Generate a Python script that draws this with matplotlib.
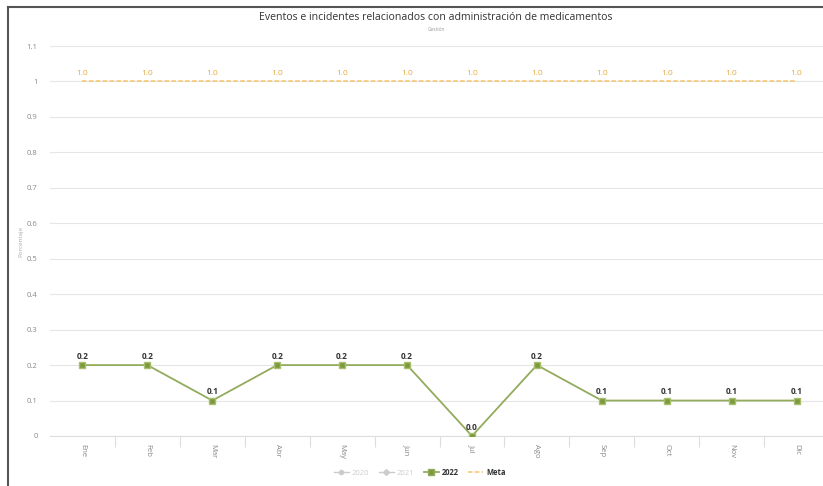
import matplotlib.pyplot as plt
from matplotlib.lines import Line2D

plt.rcParams['font.family'] = ['Open Sans', 'DejaVu Sans']

meses = ['Ene', 'Feb', 'Mar', 'Abr', 'May', 'Jun', 'Jul', 'Ago', 'Sep', 'Oct', 'Nov', 'Dic']
valores_2022 = [0.2, 0.2, 0.1, 0.2, 0.2, 0.2, 0.0, 0.2, 0.1, 0.1, 0.1, 0.1]
meta = [1.0] * 12
y_ticks = [0, 0.1, 0.2, 0.3, 0.4, 0.5, 0.6, 0.7, 0.8, 0.9, 1, 1.1]
y_tick_labels = ['0', '0.1', '0.2', '0.3', '0.4', '0.5', '0.6', '0.7', '0.8', '0.9', '1', '1.1']

verde = '#93ab5c'
verde_marker = '#7b9a3c'
naranja = '#f7c46c'
naranja_txt = '#e9a93a'

fig = plt.figure(figsize=(8.23, 4.86), dpi=100)
ax = fig.add_axes([0.0608, 0.1029, 0.9465, 0.8024])

x = list(range(len(meses)))
ax.plot(x, meta, color=naranja, lw=1.1, ls=(0, (3, 1.5)), zorder=3)
ax.plot(x, valores_2022, color=verde, lw=1.3, marker='s', ms=5,
        markerfacecolor=verde_marker, markeredgecolor='#a9bf6e', zorder=4)

for i, v in enumerate(meta):
    ax.text(i, v + 0.012, f'{v:.1f}', ha='center', va='bottom',
            fontsize=6, color=naranja_txt)
for i, v in enumerate(valores_2022):
    ax.text(i, v + 0.012, f'{v:.1f}', ha='center', va='bottom',
            fontsize=6, fontweight='bold', color='#333333', zorder=5)

ax.set_xlim(-0.5, len(meses) - 0.5)
ax.set_ylim(0, 1.1)
ax.set_yticks(y_ticks)
ax.set_yticklabels(y_tick_labels, fontsize=5.5, color='#888888')
ax.set_xticks(x)
ax.set_xticklabels(meses, rotation=-90, fontsize=5.5, color='#888888')
ax.set_xticks([i + 0.5 for i in x[:-1]], minor=True)
ax.tick_params(axis='x', which='major', length=0, pad=6)
ax.tick_params(axis='x', which='minor', length=8, color='#dddddd', width=0.8)
ax.tick_params(axis='y', length=0, pad=9)

ax.grid(axis='y', color='#e6e6e6', lw=0.8)
ax.set_axisbelow(True)
for s in ['top', 'right', 'left']:
    ax.spines[s].set_visible(False)
ax.spines['bottom'].set_color('#dddddd')
ax.spines['bottom'].set_linewidth(0.8)

ax.set_ylabel('Porcentaje', fontsize=4.5, color='#aaaaaa', labelpad=2)

fig.text(0.53, 0.963, 'Eventos e incidentes relacionados con administración de medicamentos',
         ha='center', va='center', fontsize=7.6, color='#333333')
fig.text(0.53, 0.94, 'Gestión', ha='center', va='center', fontsize=3.5, color='#999999')

handles = [
    Line2D([], [], color='#cccccc', marker='o', ms=3, lw=1),
    Line2D([], [], color='#cccccc', marker='D', ms=3, lw=1),
    Line2D([], [], color=verde, marker='s', ms=4, lw=1.3, markerfacecolor=verde_marker),
    Line2D([], [], color=naranja, lw=1.1, ls=(0, (3, 1.5))),
]
leg = fig.legend(handles, ['2020', '2021', '2022', 'Meta'], loc='center',
                 bbox_to_anchor=(0.51, 0.028), ncol=4, frameon=False,
                 fontsize=5.5, handlelength=2, columnspacing=1.2, handletextpad=0.4)
for t, c in zip(leg.get_texts(), ['#cccccc', '#cccccc', '#333333', '#333333']):
    t.set_color(c)
    if c == '#333333':
        t.set_fontweight('bold')

# marco exterior
fig.add_artist(Line2D([0.0097, 0.0097], [0.0, 0.986], color='#555555', lw=1.5,
                      transform=fig.transFigure))
fig.add_artist(Line2D([0.0097, 1.0], [0.986, 0.986], color='#555555', lw=1.5,
                      transform=fig.transFigure))

fig.savefig('out.png', dpi=100)
